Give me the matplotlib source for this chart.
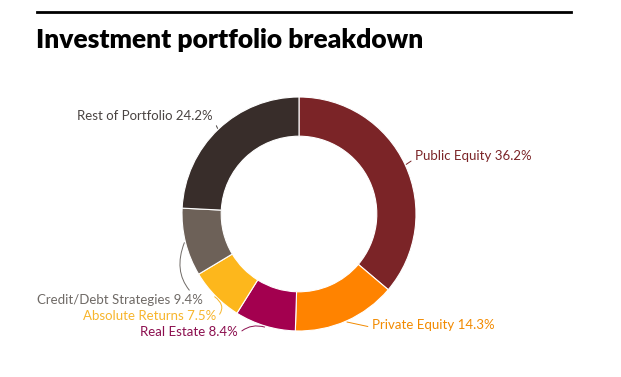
import matplotlib.pyplot as plt
import numpy as np

plt.rcParams['font.family'] = ['Lato', 'DejaVu Sans']

# data
categories = ['Public Equity', 'Private Equity', 'Real Estate',
              'Absolute Returns', 'Credit/Debt Strategies', 'Rest of Portfolio']
shares = [36.2, 14.3, 8.4, 7.5, 9.4, 24.2]
colors = ['#7b2427', '#ff8300', '#a3004f', '#fdb71c', '#6d6158', '#382d2a']
label_colors = ['#7b2427', '#f28a00', '#8c0f4f', '#f7b52c', '#6f6a66', '#4a4442']

# label placement in figure pixels: (x, y from top, ha, curve)
label_pos = [(415, 156, 'left', 0.0),
             (372, 325, 'left', 0.0),
             (238, 332, 'right', -0.3),
             (216, 316, 'right', 0.6),
             (203, 300, 'right', -0.4),
             (213, 116, 'right', 0.0)]

W, H = 621, 377
fig = plt.figure(figsize=(W / 100, H / 100), dpi=100)
fig.set_facecolor('white')

# header rule and title
fig.add_artist(plt.Line2D([37 / W, 571 / W], [1 - 12 / H, 1 - 12 / H],
                          color='black', lw=2))
fig.text(36 / W, 1 - 40 / H, 'Investment portfolio breakdown',
         fontsize=19, fontweight='heavy', va='center', ha='left')

cx, cy, r = 299, 214, 117
ax = fig.add_axes([(cx - r) / W, (H - cy - r) / H, 2 * r / W, 2 * r / H])
wedges, _ = ax.pie(shares, colors=colors, startangle=90, counterclock=False,
                   radius=1, wedgeprops=dict(width=0.335, edgecolor='white',
                                             linewidth=0.8))
ax.set_xlim(-1, 1)
ax.set_ylim(-1, 1)
ax.set_aspect('equal')
ax.axis('off')

for w, name, val, col, (tx, ty, ha, rad) in zip(
        wedges, categories, shares, label_colors, label_pos):
    ang = np.deg2rad((w.theta1 + w.theta2) / 2)
    px, py = np.cos(ang) * 1.01, np.sin(ang) * 1.01
    relx = 0 if ha == 'left' else 1
    ax.annotate(f'{name} {val}%', xy=(px, py),
                xytext=(tx, H - ty), textcoords='figure pixels',
                ha=ha, va='center', fontsize=9.5, color=col,
                annotation_clip=False,
                arrowprops=dict(arrowstyle='-', color=col, lw=0.7,
                                shrinkA=1, shrinkB=0,
                                relpos=(relx, 0.3),
                                connectionstyle=f'arc3,rad={rad}'))

fig.savefig('out.png', dpi=100)
